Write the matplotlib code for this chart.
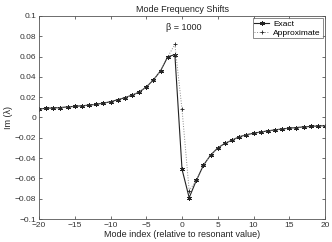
import numpy as np
import matplotlib.pyplot as plt
from matplotlib.ticker import FuncFormatter

plt.rcParams['font.family'] = ['Liberation Sans', 'DejaVu Sans']
plt.rcParams['font.size'] = 6

modes = np.arange(-20, 21)
exact = [0.0085, 0.009, 0.0094, 0.0098, 0.0104, 0.011, 0.0115, 0.0122, 0.013, 0.0142,
         0.0155, 0.0175, 0.0195, 0.022, 0.025, 0.030, 0.037, 0.046, 0.0597, 0.062,
         -0.051, -0.079, -0.062, -0.047, -0.037, -0.030, -0.0255, -0.0223, -0.019, -0.017,
         -0.0155, -0.0143, -0.0132, -0.0122, -0.0113, -0.0105, -0.0099, -0.0093, -0.0088, -0.0084, -0.008]
approx = [0.0085, 0.009, 0.0094, 0.0098, 0.0104, 0.011, 0.0115, 0.0122, 0.013, 0.0142,
          0.0155, 0.0175, 0.0195, 0.022, 0.025, 0.030, 0.037, 0.046, 0.0597, 0.072,
          0.008, -0.072, -0.062, -0.047, -0.037, -0.030, -0.0255, -0.0223, -0.019, -0.017,
          -0.0155, -0.0143, -0.0132, -0.0122, -0.0113, -0.0105, -0.0099, -0.0093, -0.0088, -0.0084, -0.008]

fig = plt.figure(figsize=(3.32, 2.42), dpi=100)
ax = fig.add_axes([0.1175, 0.095, 0.8615, 0.839])

ax.plot(modes, exact, '-', color='#222222', lw=0.8, marker=(6, 2, 0), ms=3.5, mew=0.6, label='Exact')
ax.plot(modes, approx, ':', color='#888888', lw=0.7, marker='+', ms=3.5, mew=0.6,
        mec='#222222', label='Approximate')

ax.set_xlim(-20, 20)
ax.set_ylim(-0.1, 0.1)
ax.set_xticks(np.arange(-20, 21, 5))
ax.set_yticks(np.arange(-0.1, 0.1001, 0.02))
ax.yaxis.set_major_formatter(FuncFormatter(lambda v, p: '0' if abs(v) < 1e-9 else ('%g' % round(v, 2)).replace('-', '\u2212')))
ax.xaxis.set_major_formatter(FuncFormatter(lambda v, p: ('%d' % v).replace('-', '\u2212')))
ax.tick_params(direction='in', top=True, right=True, length=2.5, width=0.5, pad=2, colors='#333333')
for s in ax.spines.values():
    s.set_linewidth(0.6)
    s.set_color('#555555')

ax.set_title('Mode Frequency Shifts', fontsize=6.5, pad=3, color='#222222')
ax.set_xlabel('Mode index (relative to resonant value)', fontsize=6.5, labelpad=1, color='#222222')
ax.set_ylabel('Im (\u03bb)', fontsize=6.5, labelpad=1, color='#222222')
ax.text(0.2, 0.089, '\u03b2 = 1000', ha='center', va='center', fontsize=6.5, color='#222222')

leg = ax.legend(loc='upper right', fontsize=6, frameon=True, fancybox=False,
                edgecolor='#555555', borderpad=0.2, labelspacing=0.1, handlelength=1.8,
                handletextpad=0.5, borderaxespad=0.3)
leg.get_frame().set_linewidth(0.6)

fig.savefig('out.png', dpi=100)
